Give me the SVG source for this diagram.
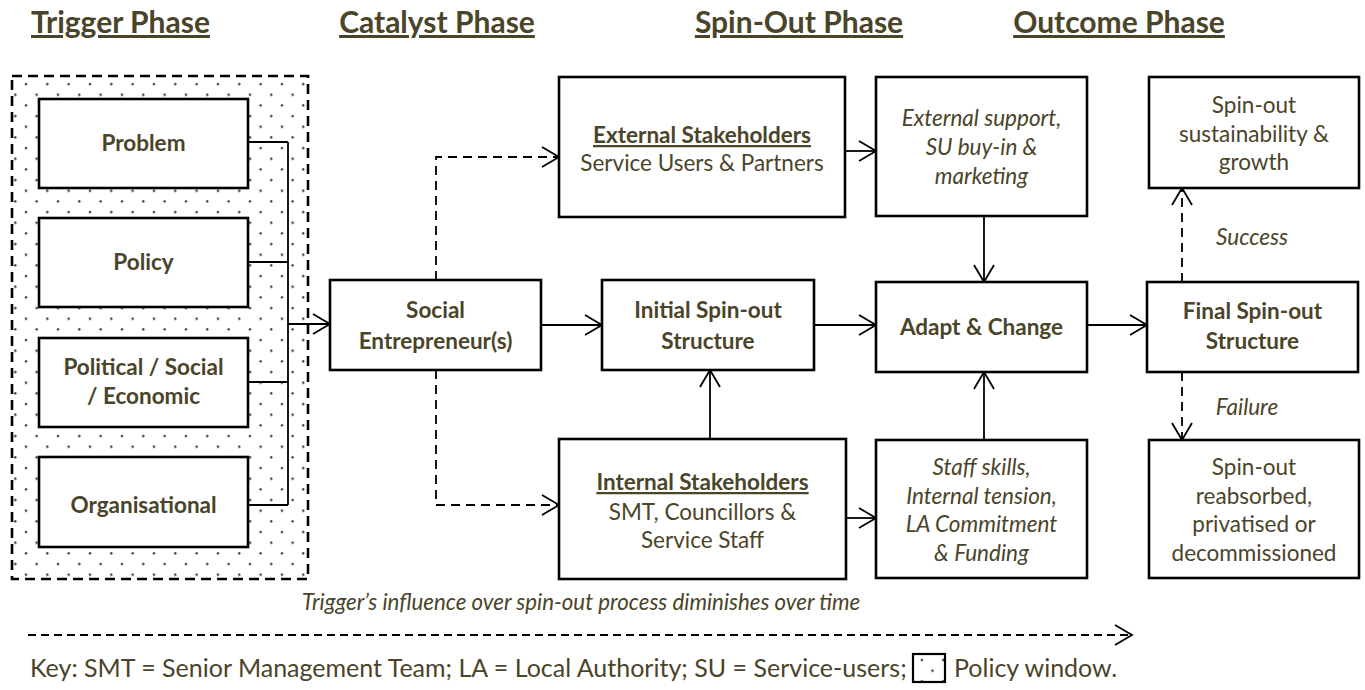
<svg xmlns="http://www.w3.org/2000/svg" width="1365" height="690" viewBox="0 0 1365 690">
  <defs>
    <pattern id="dots" patternUnits="userSpaceOnUse" x="21" y="79" width="21.33" height="21.33">
      <circle cx="5" cy="5" r="1.2" fill="#333"/>
      <circle cx="15.67" cy="15.67" r="1.2" fill="#333"/>
    </pattern>
    <marker id="chev" markerUnits="userSpaceOnUse" markerWidth="40" markerHeight="40" refX="20" refY="20" orient="auto">
      <path d="M3,10 L20,20 L3,30" fill="none" stroke="#000" stroke-width="1.8"/>
    </marker>
    <style>
      text { font-family: Lato, "Liberation Sans", sans-serif; fill: #4a4429; text-anchor: middle; }
      .hdr { font-size: 30px; font-weight: bold; text-decoration: underline; text-underline-offset: 5px; text-decoration-thickness: 2.6px; }
      .b { font-size: 22.5px; font-weight: bold; }
      .u { text-decoration: underline; }
      .r { font-size: 22.5px; }
      .i { font-size: 22.5px; font-style: italic; }
      .box { fill: #fff; stroke: #000; stroke-width: 2.6; }
      .ln { fill: none; stroke: #000; stroke-width: 1.8; }
      .arr { fill: none; stroke: #000; stroke-width: 1.8; marker-end: url(#chev); }
      .dash { stroke-dasharray: 9 6; }
    </style>
  </defs>

  <!-- phase headings -->
  <g id="headings">
    <text class="hdr" x="120.5" y="33">Trigger Phase</text>
    <text class="hdr" x="437" y="33">Catalyst Phase</text>
    <text class="hdr" x="799" y="33">Spin-Out Phase</text>
    <text class="hdr" x="1119" y="33">Outcome Phase</text>
  </g>

  <!-- policy window: dotted panel around the triggers -->
  <g id="policy-window">
    <rect x="12" y="76" width="296" height="503" fill="url(#dots)" stroke="#000" stroke-width="2.6" stroke-dasharray="10 6"/>
  </g>

  <!-- connectors -->
  <g id="connectors">
    <path class="ln" d="M248,142 H288 M248,262 H288 M248,382 H288 M248,505 H288 M288,142 V505"/>
    <line class="arr" x1="288" y1="324" x2="330" y2="324"/>
    <line class="arr" x1="541" y1="325" x2="602" y2="325"/>
    <line class="arr" x1="814" y1="325" x2="876" y2="325"/>
    <line class="arr" x1="1087" y1="325" x2="1147" y2="325"/>
    <path class="arr dash" d="M436,280 V157 H559"/>
    <path class="arr dash" d="M436,370 V505 H559"/>
    <line class="arr" x1="845" y1="151" x2="876" y2="151"/>
    <line class="arr" x1="846" y1="518" x2="876" y2="518"/>
    <line class="arr" x1="984" y1="216" x2="984" y2="282"/>
    <line class="arr" x1="984" y1="440" x2="984" y2="372"/>
    <line class="arr" x1="710" y1="439" x2="710" y2="370"/>
    <line class="arr dash" x1="1182" y1="282" x2="1182" y2="188"/>
    <line class="arr dash" x1="1182" y1="372" x2="1182" y2="440"/>
    <text class="i" x="1252" y="245">Success</text>
    <text class="i" x="1247" y="415">Failure</text>
  </g>

  <!-- trigger nodes -->
  <g id="problem">
    <rect class="box" x="39" y="99" width="209" height="89"/>
    <text class="b" x="143.5" y="151">Problem</text>
  </g>
  <g id="policy">
    <rect class="box" x="39" y="218" width="209" height="89"/>
    <text class="b" x="143.5" y="270">Policy</text>
  </g>
  <g id="political">
    <rect class="box" x="39" y="338" width="209" height="89"/>
    <text class="b" x="143.5" y="375">Political / Social</text>
    <text class="b" x="143.5" y="404">/ Economic</text>
  </g>
  <g id="organisational">
    <rect class="box" x="39" y="457" width="209" height="90"/>
    <text class="b" x="143.5" y="513">Organisational</text>
  </g>

  <!-- catalyst -->
  <g id="social-entrepreneur">
    <rect class="box" x="330" y="280" width="211" height="90"/>
    <text class="b" x="435.5" y="318">Social</text>
    <text class="b" x="435.5" y="349">Entrepreneur(s)</text>
  </g>

  <!-- spin-out -->
  <g id="external-stakeholders">
    <rect class="box" x="559" y="77" width="286" height="140"/>
    <text class="b u" x="702" y="143">External Stakeholders</text>
    <text class="r" x="702" y="171">Service Users &amp; Partners</text>
  </g>
  <g id="initial-structure">
    <rect class="box" x="602" y="280" width="212" height="90"/>
    <text class="b" x="708" y="318">Initial Spin-out</text>
    <text class="b" x="708" y="349">Structure</text>
  </g>
  <g id="internal-stakeholders">
    <rect class="box" x="559" y="439" width="287" height="140"/>
    <text class="b u" x="702.5" y="490">Internal Stakeholders</text>
    <text class="r" x="702.5" y="520">SMT, Councillors &amp;</text>
    <text class="r" x="702.5" y="548">Service Staff</text>
  </g>
  <g id="external-support">
    <rect class="box" x="876" y="77" width="211" height="139"/>
    <text class="i" x="981.5" y="126">External support,</text>
    <text class="i" x="981.5" y="155">SU buy-in &amp;</text>
    <text class="i" x="981.5" y="184">marketing</text>
  </g>
  <g id="adapt-change">
    <rect class="box" x="876" y="282" width="211" height="90"/>
    <text class="b" x="981.5" y="335">Adapt &amp; Change</text>
  </g>
  <g id="internal-factors">
    <rect class="box" x="876" y="440" width="211" height="138"/>
    <text class="i" x="981.5" y="475">Staff skills,</text>
    <text class="i" x="981.5" y="503.5">Internal tension,</text>
    <text class="i" x="981.5" y="532">LA Commitment</text>
    <text class="i" x="981.5" y="561">&amp; Funding</text>
  </g>

  <!-- outcome -->
  <g id="sustainability">
    <rect class="box" x="1149" y="77" width="210" height="111"/>
    <text class="r" x="1254" y="113">Spin-out</text>
    <text class="r" x="1254" y="142">sustainability &amp;</text>
    <text class="r" x="1254" y="170">growth</text>
  </g>
  <g id="final-structure">
    <rect class="box" x="1147" y="282" width="211" height="90"/>
    <text class="b" x="1252.5" y="319">Final Spin-out</text>
    <text class="b" x="1252.5" y="349">Structure</text>
  </g>
  <g id="reabsorbed">
    <rect class="box" x="1149" y="440" width="210" height="138"/>
    <text class="r" x="1254" y="475">Spin-out</text>
    <text class="r" x="1254" y="503.5">reabsorbed,</text>
    <text class="r" x="1254" y="532">privatised or</text>
    <text class="r" x="1254" y="561">decommissioned</text>
  </g>

  <!-- time axis and key -->
  <g id="timeline">
    <text x="581" y="610" style="font-size:22.3px;font-style:italic">Trigger’s influence over spin-out process diminishes over time</text>
    <line class="arr" x1="28" y1="635" x2="1132" y2="635" style="stroke-dasharray:8 5"/>
  </g>
  <g id="key">
    <text x="30" y="677" style="font-size:25px;text-anchor:start">Key: SMT = Senior Management Team; LA = Local Authority; SU = Service-users;</text>
    <rect x="913" y="654" width="32" height="28" fill="url(#dots)" stroke="#000" stroke-width="2.2"/>
    <text x="954" y="677" style="font-size:25px;text-anchor:start">Policy window.</text>
  </g>
</svg>
